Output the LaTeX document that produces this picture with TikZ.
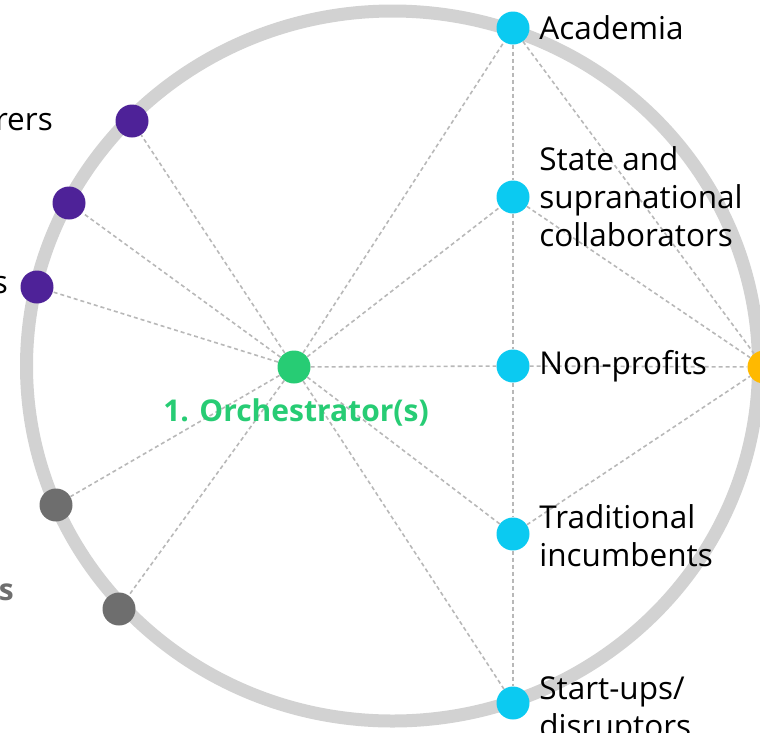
\documentclass[tikz,border=0pt]{standalone}
\usepackage{fontspec}
\setmainfont{Open Sans}
\usetikzlibrary{positioning}
\definecolor{ringgray}{HTML}{D2D2D2}
\definecolor{linkgray}{HTML}{B8B8B8}
\definecolor{orchgreen}{HTML}{27CC74}
\definecolor{actorcyan}{HTML}{0BCAF1}
\definecolor{enablerpurple}{HTML}{4E2298}
\definecolor{othergray}{HTML}{6E6E6E}
\definecolor{hubyellow}{HTML}{FFB900}

\begin{document}
\begin{tikzpicture}[x=1pt, y=-1pt,
	dot/.style = {circle, fill, minimum size=33pt, inner sep=0pt},
	link/.style = {draw=linkgray, line width=1.6pt, dash pattern=on 4pt off 3pt},
	lbl/.style = {inner sep=0pt, align=left, font=\fontsize{31.5}{38}\selectfont}]
	\useasboundingbox (0,0) rectangle (760,732);
	\draw[ringgray, line width=13pt] (392.5,366) ellipse [x radius=366pt, y radius=355pt];
	\node[dot, orchgreen] (orch) at (294,367) {};
	\node[dot, actorcyan] (acad) at (513,28) {};
	\node[dot, actorcyan] (state) at (513,197) {};
	\node[dot, actorcyan] (nonprof) at (513,366) {};
	\node[dot, actorcyan] (incumb) at (513,534) {};
	\node[dot, actorcyan] (startup) at (513,703) {};
	\node[dot, hubyellow] (hub) at (764,367) {};
	\node[dot, enablerpurple] (p1) at (132,121) {};
	\node[dot, enablerpurple] (p2) at (69,203) {};
	\node[dot, enablerpurple] (p3) at (37,287) {};
	\node[dot, othergray] (g1) at (56,505) {};
	\node[dot, othergray] (g2) at (119,609) {};
	\draw[link] (orch) -- (p1);
	\draw[link] (orch) -- (p2);
	\draw[link] (orch) -- (p3);
	\draw[link] (orch) -- (g1);
	\draw[link] (orch) -- (g2);
	\draw[link] (orch) -- (acad);
	\draw[link] (orch) -- (state);
	\draw[link] (orch) -- (nonprof);
	\draw[link] (orch) -- (incumb);
	\draw[link] (orch) -- (startup);
	\draw[link] (acad) -- (state);
	\draw[link] (state) -- (nonprof);
	\draw[link] (nonprof) -- (incumb);
	\draw[link] (incumb) -- (startup);
	\draw[link] (acad) -- (hub);
	\draw[link] (state) -- (hub);
	\draw[link] (nonprof) -- (hub);
	\draw[link] (incumb) -- (hub);
	\node[lbl, right=9.5pt of acad] (acadlbl) {Academia};
	\node[lbl, right=9.5pt of state] (statelbl) {State and\\supranational\\collaborators};
	\node[lbl, right=9.5pt of nonprof] (nonproflbl) {Non-profits};
	\node[lbl, right=9.5pt of incumb, yshift=-2pt] (incumblbl) {Traditional\\incumbents};
	\node[lbl, right=9.5pt of startup, yshift=-8pt] (startuplbl) {Start-ups/\\disruptors};
	\node[lbl, anchor=base east] (p1lbl) at (53,130) {rers};
	\node[lbl, anchor=base east] (p3lbl) at (8,293) {s};
	\node[lbl, anchor=base east, text=othergray, font=\fontsize{30}{36}\selectfont\bfseries] (glbl) at (14,600) {s};
	\node[lbl, below=15pt of orch, xshift=2pt, text=orchgreen, font=\fontsize{30}{36}\selectfont\bfseries] (orchlbl) {1. Orchestrator(s)};
\end{tikzpicture}
\end{document}
